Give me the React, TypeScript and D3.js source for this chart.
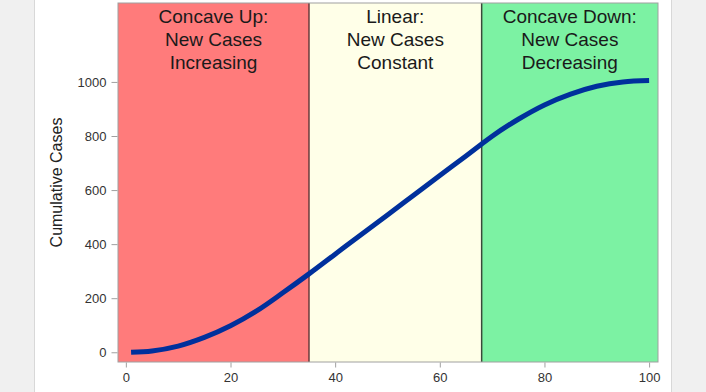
import React, { useEffect, useRef } from 'react'
import * as d3 from 'd3'

const days = [1, 5, 10, 15, 20, 25, 30, 35, 40, 45, 50, 55, 60, 65, 68, 70, 75, 80, 85, 90, 95, 100]
const cases = [0, 5, 23, 55, 98, 153, 220, 290, 363, 436, 508, 581, 654, 726, 770, 799, 862, 915, 955, 984, 1000, 1005]

const xTicks = [0, 20, 40, 60, 80, 100]
const yTicks = [0, 200, 400, 600, 800, 1000]

const regionBreaks = [35, 68]
const regionColors = ['#ff7b7b', '#ffffe8', '#7cf2a3']
const regionLabels = [
  ['Concave Up:', 'New Cases', 'Increasing'],
  ['Linear:', 'New Cases', 'Constant'],
  ['Concave Down:', 'New Cases', 'Decreasing']
]

const App = () => {
  const ref = useRef<SVGSVGElement>(null)

  useEffect(() => {
    drawChart()
  }, [])

  const drawChart = () => {
    const width = 706
    const height = 392
    const left = 118
    const right = 658
    const top = 3
    const bottom = 362
    const font = 'Liberation Sans, Arial, sans-serif'

    const svg = d3.select(ref.current)
    svg.selectAll('*').remove()

    // window background and white panel
    svg.append('rect').attr('width', width).attr('height', height).attr('fill', '#f0f0f0')
    svg.append('rect')
      .attr('x', 34.5).attr('y', -1).attr('width', 637).attr('height', height + 2)
      .attr('fill', '#ffffff').attr('stroke', '#d8d8d8')

    const xScale = d3.scaleLinear().domain([-1.5, 101.7]).range([left, right])
    const yScale = d3.scaleLinear().domain([-36, 1292]).range([bottom, top])

    const [xMin, xMax] = xScale.domain()
    const edges = [xMin, ...regionBreaks, xMax]

    svg.selectAll('rect.region')
      .data(regionColors)
      .enter()
      .append('rect')
      .attr('class', 'region')
      .attr('x', (d, i) => xScale(edges[i]))
      .attr('y', top)
      .attr('width', (d, i) => xScale(edges[i + 1]) - xScale(edges[i]))
      .attr('height', bottom - top)
      .attr('fill', d => d)

    svg.selectAll('line.sep')
      .data(regionBreaks)
      .enter()
      .append('line')
      .attr('class', 'sep')
      .attr('x1', d => xScale(d)).attr('x2', d => xScale(d))
      .attr('y1', top).attr('y2', bottom)
      .attr('stroke', (d, i) => (i === 0 ? '#6a3a3a' : '#3a4a3a'))
      .attr('stroke-width', 1.5)

    regionLabels.forEach((lines, i) => {
      const cx = (xScale(edges[i]) + xScale(edges[i + 1])) / 2
      lines.forEach((t, j) => {
        svg.append('text')
          .attr('x', cx)
          .attr('y', 22.5 + j * 23)
          .attr('text-anchor', 'middle')
          .attr('font-family', font)
          .attr('font-size', 19)
          .attr('fill', '#1a1a1a')
          .text(t)
      })
    })

    svg.append('rect')
      .attr('x', left).attr('y', top)
      .attr('width', right - left).attr('height', bottom - top)
      .attr('fill', 'none').attr('stroke', '#a0a0a0')

    const line = d3.line<number>()
      .x((d, i) => xScale(days[i]))
      .y(d => yScale(d))
      .curve(d3.curveMonotoneX)

    svg.append('path')
      .datum(cases)
      .attr('d', line)
      .attr('fill', 'none')
      .attr('stroke', '#00309c')
      .attr('stroke-width', 5)

    const xAxis = d3.axisBottom(xScale).tickValues(xTicks).tickSize(5).tickPadding(5).tickSizeOuter(0).tickFormat(d3.format('d'))
    const yAxis = d3.axisLeft(yScale).tickValues(yTicks).tickSize(6).tickPadding(5).tickSizeOuter(0).tickFormat(d3.format('d'))

    const gx = svg.append('g')
      .attr('transform', `translate(0, ${bottom + 0.5})`)
      .call(xAxis)
    const gy = svg.append('g')
      .attr('transform', `translate(${left - 0.5}, 0)`)
      .call(yAxis)

    ;[gx, gy].forEach(g => {
      g.select('.domain').remove()
      g.selectAll('line').attr('stroke', '#a0a0a0')
      g.selectAll('text')
        .attr('font-family', font)
        .attr('font-size', 13)
        .attr('fill', '#333')
    })

    svg.append('text')
      .attr('transform', `translate(62, ${(top + bottom) / 2}) rotate(-90)`)
      .attr('text-anchor', 'middle')
      .attr('font-family', font)
      .attr('font-size', 16)
      .attr('fill', '#222')
      .text('Cumulative Cases')
  }

  return (
    <div style={{ position: 'absolute', left: 0, top: 0 }}>
      <svg ref={ref} width={706} height={392}></svg>
    </div>
  )
}

export default App
